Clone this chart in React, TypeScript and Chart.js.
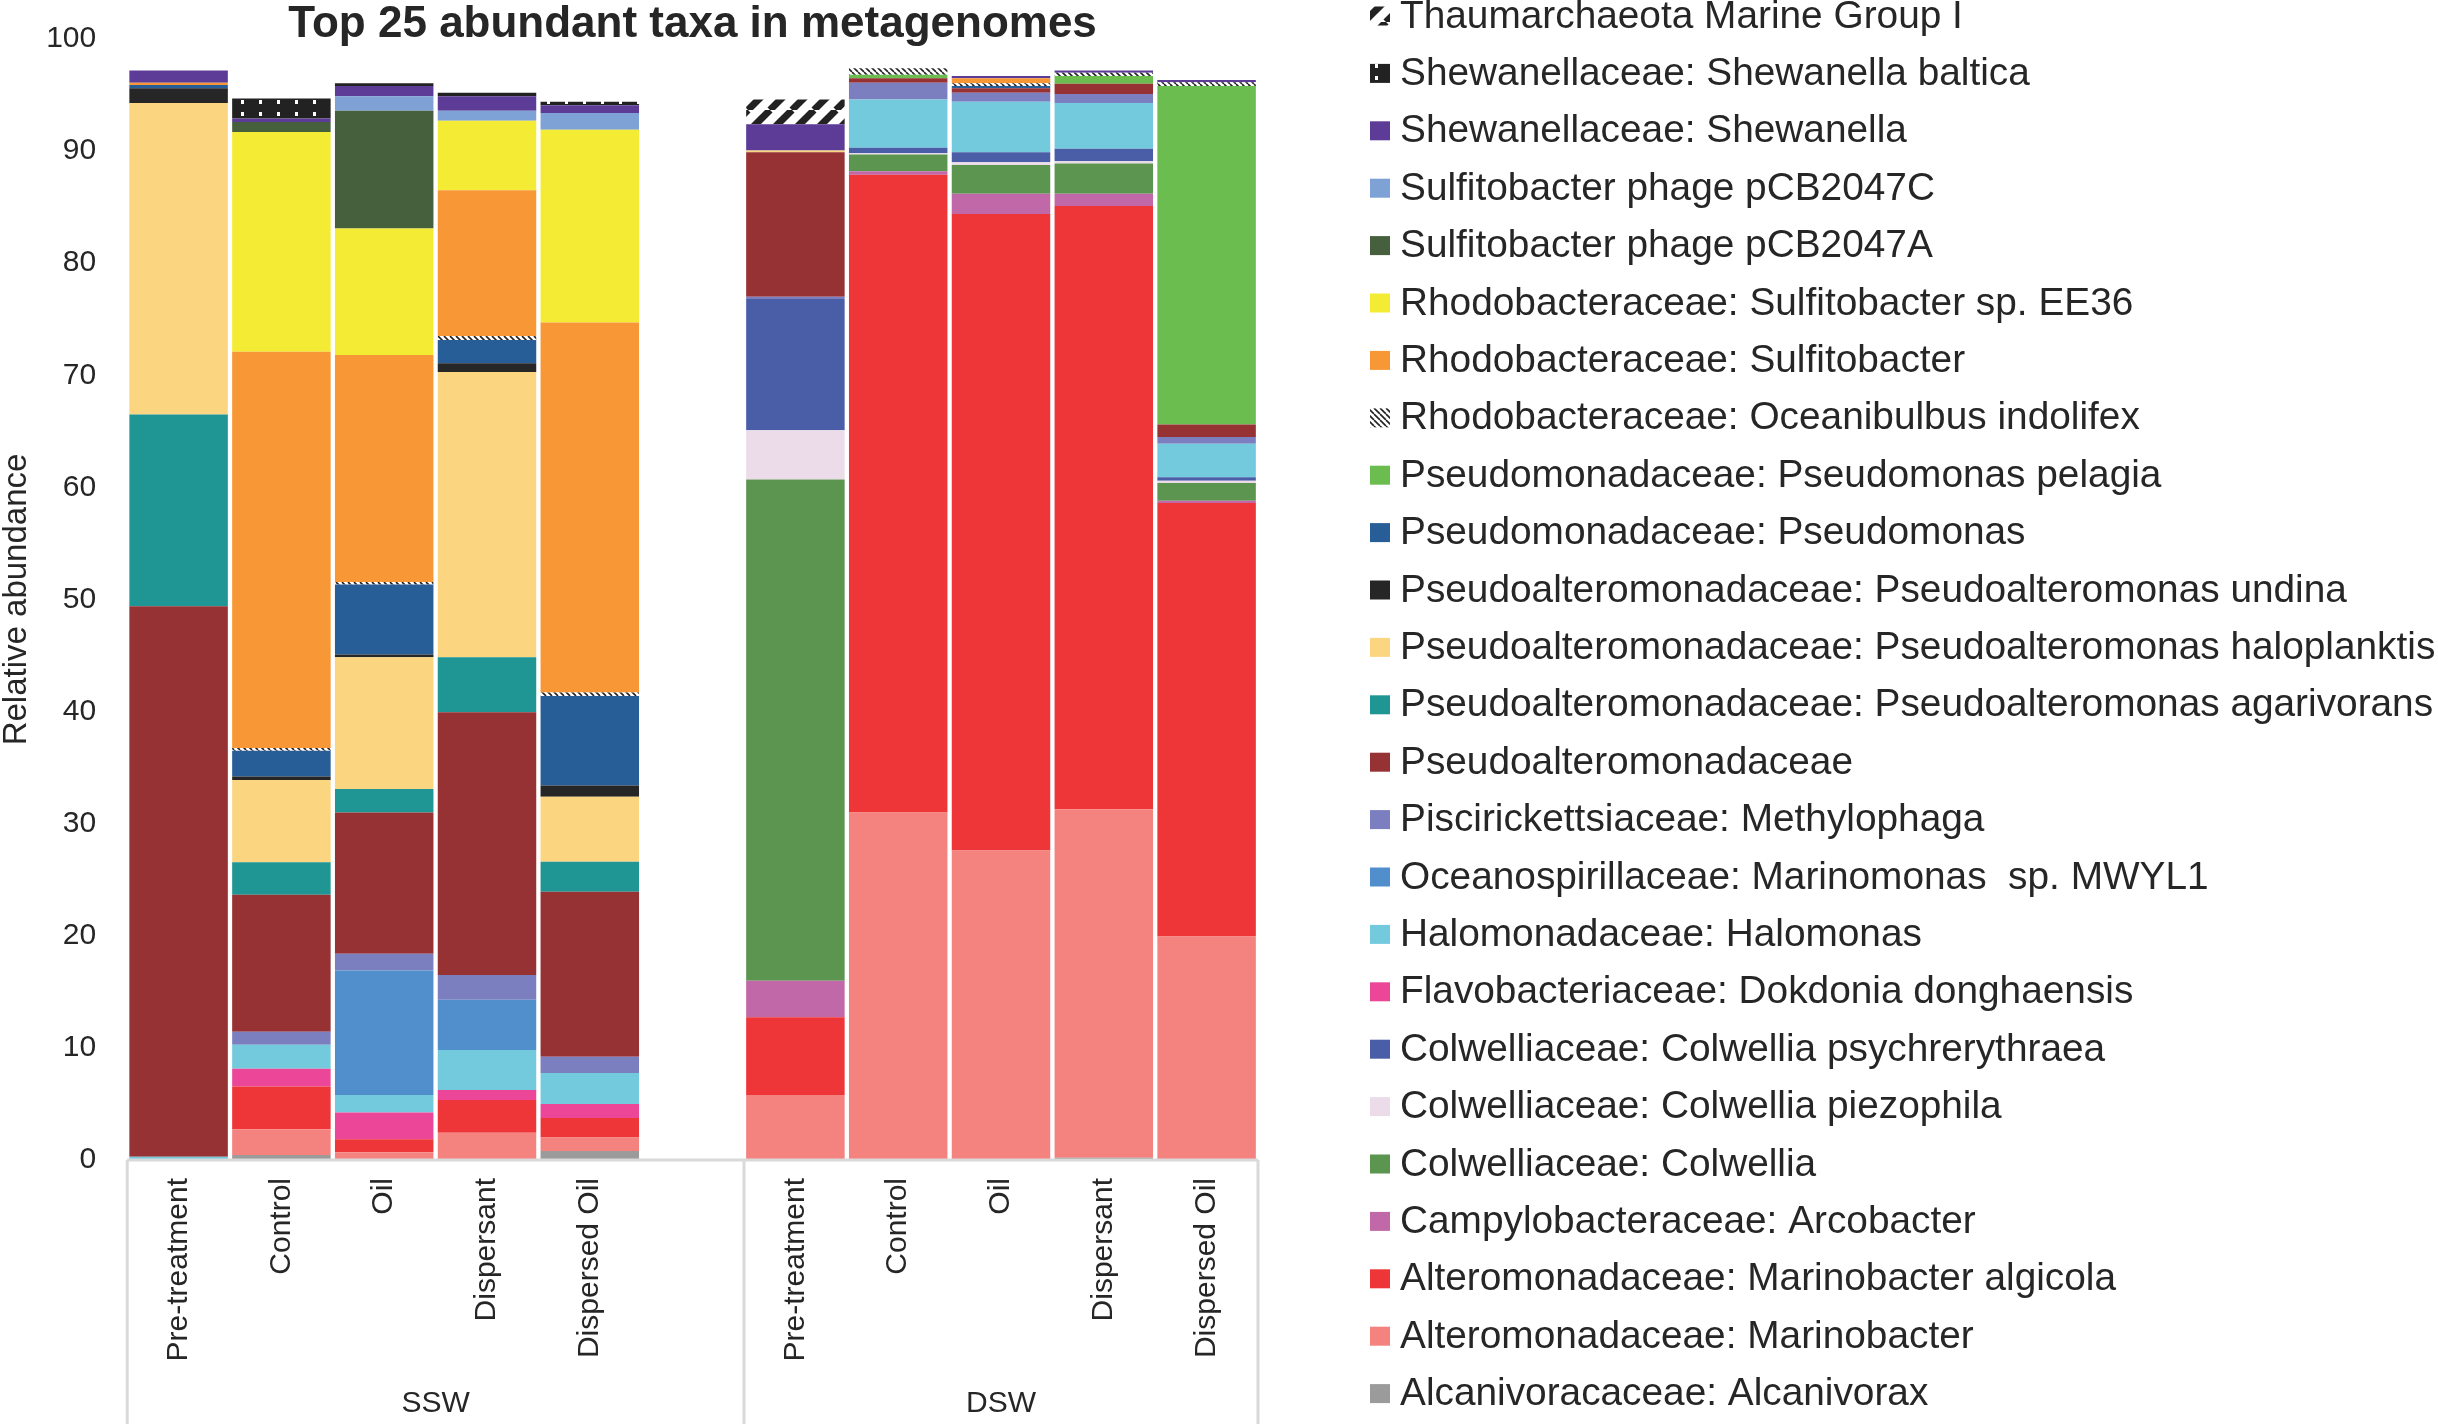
import React, { useEffect, useRef } from "react";
import { Chart, registerables } from "chart.js";

Chart.register(...registerables);

// ---------- DATA ----------
const categories = [
  "Pre-treatment", "Control", "Oil", "Dispersant", "Dispersed Oil", "",
  "Pre-treatment", "Control", "Oil", "Dispersant", "Dispersed Oil",
];
const groupLabels = ["SSW", "DSW"];
const chartTitle = "Top 25 abundant taxa in metagenomes";
const yTitle = "Relative abundance";

// taxa listed bottom of stack -> top of stack
const taxa = [
  "Alcanivoracaceae: Alcanivorax",
  "Alteromonadaceae: Marinobacter",
  "Alteromonadaceae: Marinobacter algicola",
  "Campylobacteraceae: Arcobacter",
  "Colwelliaceae: Colwellia",
  "Colwelliaceae: Colwellia piezophila",
  "Colwelliaceae: Colwellia psychrerythraea",
  "Flavobacteriaceae: Dokdonia donghaensis",
  "Halomonadaceae: Halomonas",
  "Oceanospirillaceae: Marinomonas  sp. MWYL1",
  "Piscirickettsiaceae: Methylophaga",
  "Pseudoalteromonadaceae",
  "Pseudoalteromonadaceae: Pseudoalteromonas agarivorans",
  "Pseudoalteromonadaceae: Pseudoalteromonas haloplanktis",
  "Pseudoalteromonadaceae: Pseudoalteromonas undina",
  "Pseudomonadaceae: Pseudomonas",
  "Pseudomonadaceae: Pseudomonas pelagia",
  "Rhodobacteraceae: Oceanibulbus indolifex",
  "Rhodobacteraceae: Sulfitobacter",
  "Rhodobacteraceae: Sulfitobacter sp. EE36",
  "Sulfitobacter phage pCB2047A",
  "Sulfitobacter phage pCB2047C",
  "Shewanellaceae: Shewanella",
  "Shewanellaceae: Shewanella baltica",
  "Thaumarchaeota Marine Group I",
];

const alcanivorax = [0, 0.45, 0, 0, 0.8, null, 0, 0, 0, 0.2, 0];
const marinobacter = [0, 2.3, 0.7, 2.44, 1.2, null, 5.8, 31.0, 27.6, 31.1, 19.94];
const marinobacterAlgicola = [0, 3.8, 1.16, 2.92, 1.75, null, 6.94, 56.9, 56.8, 53.8, 38.66];
const arcobacter = [0, 0, 0, 0, 0, null, 3.24, 0.3, 1.8, 1.1, 0.2];
const colwellia = [0, 0, 0, 0, 0, null, 44.72, 1.5, 2.55, 2.7, 1.6];
const colwelliaPiezophila = [0, 0, 0, 0, 0, null, 4.4, 0.1, 0.25, 0.2, 0.2];
const colwelliaPsychrerythraea = [0, 0, 0, 0, 0, null, 11.7, 0.5, 0.9, 1.1, 0.3];
const dokdonia = [0, 1.6, 2.38, 0.89, 1.25, null, 0, 0, 0, 0, 0];
const halomonas = [0.3, 2.12, 1.56, 3.57, 2.77, null, 0, 4.3, 4.5, 4.1, 3.0];
const marinomonas = [0, 0, 11.1, 4.47, 0, null, 0, 0, 0, 0, 0];
const methylophaga = [0, 1.16, 1.5, 2.21, 1.43, null, 0.2, 1.5, 0.8, 0.8, 0.6];
const pseudoalteromonadaceae = [49.1, 12.23, 12.6, 23.44, 14.73, null, 12.9, 0.4, 0.4, 0.9, 1.1];
const agarivorans = [17.1, 2.89, 2.1, 4.91, 2.67, null, 0, 0, 0, 0, 0];
const haloplanktis = [27.8, 7.35, 11.75, 25.45, 5.8, null, 0.15, 0, 0, 0, 0];
const undina = [1.3, 0.3, 0.25, 0.77, 1.0, null, 0, 0, 0, 0, 0];
const pseudomonas = [0.3, 2.3, 6.24, 2.08, 8.0, null, 0, 0, 0.2, 0, 0];
const pseudomonasPelagia = [0, 0, 0, 0, 0, null, 0, 0.3, 0, 0.7, 30.2];
const oceanibulbus = [0, 0.25, 0.21, 0.35, 0.3, null, 0, 0.6, 0.25, 0.3, 0.35];
const sulfitobacter = [0.2, 35.35, 20.25, 13.0, 33.0, null, 0, 0, 0.45, 0, 0];
const sulfitobacterEE36 = [0, 19.6, 11.3, 6.2, 17.2, null, 0, 0, 0, 0, 0];
const phageA = [0, 0.9, 10.5, 0, 0, null, 0, 0, 0, 0, 0];
const phageC = [0, 0, 1.3, 0.9, 1.5, null, 0, 0, 0, 0, 0];
const shewanella = [1.1, 0.3, 0.9, 1.3, 0.7, null, 2.35, 0, 0.2, 0.2, 0.2];
const shewanellaBaltica = [0, 1.8, 0.25, 0.3, 0.3, null, 0, 0, 0, 0, 0];
const thaumarchaeota = [0, 0, 0, 0, 0, null, 2.2, 0, 0, 0, 0];

const seriesValues = [
  alcanivorax, marinobacter, marinobacterAlgicola, arcobacter, colwellia,
  colwelliaPiezophila, colwelliaPsychrerythraea, dokdonia, halomonas, marinomonas,
  methylophaga, pseudoalteromonadaceae, agarivorans, haloplanktis, undina,
  pseudomonas, pseudomonasPelagia, oceanibulbus, sulfitobacter, sulfitobacterEE36,
  phageA, phageC, shewanella, shewanellaBaltica, thaumarchaeota,
];

const colors = [
  "#9B9B9B", "#F4827E", "#EE3538", "#C068A8", "#5B9550",
  "#ECDCE9", "#4A5EA8", "#EC4698", "#74CADD", "#508FCB",
  "#7C7FBF", "#963234", "#1F9693", "#FCD580", "#262626",
  "#285E98", "#6CBD4F", "pattern-dots", "#F79736", "#F4EC34",
  "#46603E", "#7FA2D6", "#5D3C97", "pattern-baltica", "pattern-hatch",
];

const FONT = "'Liberation Sans', Arial, Helvetica, sans-serif";
const TEXT = "#262626";

function makePattern(kind: string): CanvasPattern | string {
  const c = document.createElement("canvas");
  const g = c.getContext("2d");
  if (!g) return "#000";
  if (kind === "pattern-hatch") {
    c.width = 22; c.height = 22;
    g.fillStyle = "#fff"; g.fillRect(0, 0, 22, 22);
    g.strokeStyle = "#222"; g.lineWidth = 7;
    for (const o of [-22, 0, 22]) {
      g.beginPath(); g.moveTo(o, 22); g.lineTo(o + 22, 0); g.stroke();
    }
  } else if (kind === "pattern-dots") {
    c.width = 6; c.height = 6;
    g.fillStyle = "#fff"; g.fillRect(0, 0, 6, 6);
    g.strokeStyle = "#222"; g.lineWidth = 1.6;
    for (const o of [-6, 0, 6]) {
      g.beginPath(); g.moveTo(o, 0); g.lineTo(o + 6, 6); g.stroke();
    }
  } else {
    c.width = 18; c.height = 12;
    g.fillStyle = "#222"; g.fillRect(0, 0, 18, 12);
    g.fillStyle = "#fff"; g.fillRect(7, 4, 3, 4);
  }
  return g.createPattern(c, "repeat") as CanvasPattern;
}

const overlayPlugin = {
  id: "overlay",
  afterDraw(chart: any) {
    const { ctx, chartArea } = chart;
    const xs = chart.scales.x;
    const bottom = chartArea.bottom;
    const H = chart.height;
    ctx.save();
    // category axis with group brackets
    const sep = (xs.getPixelForValue(5) + xs.getPixelForValue(6)) / 2;
    ctx.strokeStyle = "#D9D9D9";
    ctx.lineWidth = 3;
    ctx.beginPath();
    ctx.moveTo(xs.left, bottom); ctx.lineTo(xs.right, bottom);
    for (const x of [xs.left, sep, xs.right]) {
      ctx.moveTo(x, bottom); ctx.lineTo(x, H);
    }
    ctx.stroke();
    ctx.fillStyle = TEXT;
    ctx.font = `30px ${FONT}`;
    ctx.textAlign = "center";
    ctx.textBaseline = "middle";
    ctx.fillText(groupLabels[0], (xs.left + sep) / 2, 1404);
    ctx.fillText(groupLabels[1], (sep + xs.right) / 2, 1404);
    // title
    ctx.font = `bold 44px ${FONT}`;
    ctx.textBaseline = "alphabetic";
    ctx.fillText(chartTitle, (chartArea.left + chartArea.right) / 2, 37);
    // legend (top of stack first)
    const ds = chart.data.datasets;
    ctx.font = `38.8px ${FONT}`;
    ctx.textAlign = "left";
    ctx.textBaseline = "middle";
    for (let r = 0; r < ds.length; r++) {
      const d = ds[ds.length - 1 - r];
      const y = 16 + r * 57.4;
      ctx.fillStyle = d.backgroundColor;
      ctx.fillRect(1370, y - 9.5, 20, 19);
      ctx.fillStyle = TEXT;
      ctx.fillText(d.label, 1400, y + 1);
    }
    ctx.restore();
  },
};

export default function App() {
  const ref = useRef<HTMLCanvasElement | null>(null);
  useEffect(() => {
    if (!ref.current) return;
    const datasets = taxa.map((name, i) => ({
      label: name,
      data: seriesValues[i],
      backgroundColor: colors[i].startsWith("pattern") ? makePattern(colors[i]) : colors[i],
      borderWidth: 0,
      barPercentage: 0.958,
      categoryPercentage: 1.0,
    }));
    const chart = new Chart(ref.current, {
      type: "bar",
      data: { labels: categories, datasets: datasets as any },
      options: {
        animation: false,
        responsive: false,
        devicePixelRatio: 1,
        layout: { padding: { top: 39, right: 1180, left: 0, bottom: 0 } },
        plugins: { legend: { display: false }, title: { display: false }, tooltip: { enabled: false } },
        scales: {
          x: {
            stacked: true,
            grid: { display: false, drawTicks: false },
            border: { display: false },
            ticks: {
              autoSkip: false, maxRotation: 90, minRotation: 90,
              padding: 18, color: TEXT, font: { family: FONT, size: 30 },
            },
            afterFit: (s: any) => { s.height = 264; },
          },
          y: {
            stacked: true, min: 0, max: 100,
            grid: { display: false, drawTicks: false },
            border: { display: false },
            ticks: { stepSize: 10, padding: 31, color: TEXT, font: { family: FONT, size: 30 } },
            title: {
              display: true, text: yTitle, color: TEXT,
              font: { family: FONT, size: 33, lineHeight: 1 }, padding: { top: 0, bottom: 0 },
            },
            afterFit: (s: any) => { s.width = 127.2; s.paddingTop = 0; s.paddingBottom = 0; },
          },
        },
      },
      plugins: [overlayPlugin],
    });
    return () => chart.destroy();
  }, []);
  return (
    <div style={{ position: "fixed", left: 0, top: 0, width: 2438, height: 1424, background: "#fff" }}>
      <canvas ref={ref} width={2438} height={1424} style={{ width: 2438, height: 1424, display: "block" }} />
    </div>
  );
}
